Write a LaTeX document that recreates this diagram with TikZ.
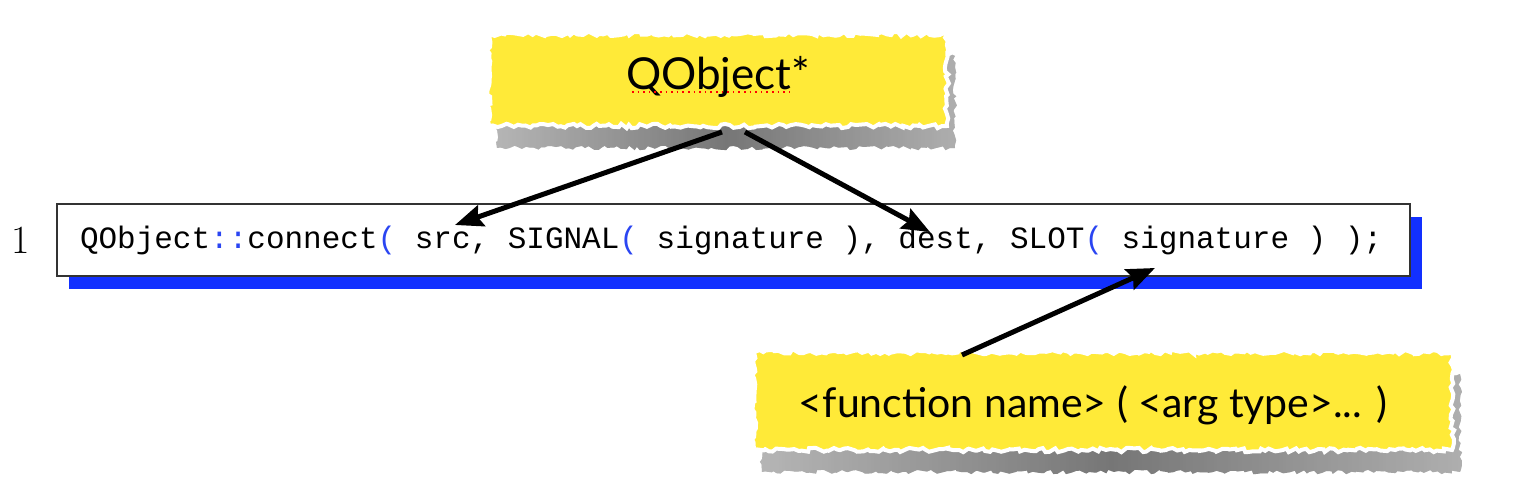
\documentclass[tikz,border=0pt]{standalone}
\usepackage{fontspec}
\setmonofont{Liberation Mono}
\newfontfamily\notefont{Lato}
\usetikzlibrary{arrows.meta,shadows,decorations.pathmorphing,positioning}

\definecolor{notefill}{HTML}{FFEA38}
\definecolor{codeblue}{HTML}{1230FF}
\definecolor{tokblue}{HTML}{2A45F2}
\newcommand{\tok}[1]{\textcolor{tokblue}{#1}}
\newcommand{\lowered}[2]{\raisebox{-#1}[0pt][0pt]{#2}}
\newcommand{\monospaces}{\spaceskip=9.3pt\relax}

\begin{document}
\pgfmathsetseed{7}
\begin{tikzpicture}[
  x=0.5pt, y=-0.5pt,
  every node/.style={inner sep=1pt},
  note/.style={draw=white, line width=2pt, fill=notefill,
    font=\notefont\fontsize{20.5}{22}\selectfont,
    decorate, decoration={random steps, segment length=2pt, amplitude=1.1pt},
    drop shadow={shadow xshift=4pt, shadow yshift=-11pt, opacity=.55,
      left color=black!30, right color=black!35, middle color=black!75}},
  codebox/.style={draw=black!80, line width=0.7pt, fill=white,
    minimum height=36pt, text width=653.5pt, inner xsep=11.5pt, align=left,
    font=\ttfamily\fontsize{15.5}{18}\selectfont,
    drop shadow={shadow xshift=6pt, shadow yshift=-6.5pt, fill=codeblue, opacity=1}},
  lineno/.style={font=\fontsize{20}{22}\selectfont},
  pointer/.style={draw, line width=2.5pt, -{Stealth[length=14pt, width=11pt, inset=2pt]}},
  spell/.style={draw=red, line width=0.8pt, dotted}]

  \useasboundingbox (0,0) rectangle (1528,496);

  % ---- objects ------------------------------------------------------------
  \node[note, minimum width=229pt, minimum height=46pt] (obj) at (718,80)
    {\fontsize{22}{24}\selectfont\lowered{5pt}{QObject*}};
  \node[codebox] (code) at (733.5,240)
    {\monospaces QObject\tok{::}connect\tok{(} src, SIGNAL\tok{(} signature ), dest, SLOT\tok{(} signature ) );};
  \node[lineno, left=12pt of code] (num) {1};
  \node[note, minimum width=349pt, minimum height=49pt] (fn) at (1103,401)
    {\lowered{8.5pt}{\hspace*{-10pt}<function name> ( <arg type>... )}};

  % spelling mark under the class name
  \draw[spell] ([shift={(-43pt,-6pt)}]obj.center) -- ++(80pt,0pt);

  % ---- arrows -------------------------------------------------------------
  \coordinate (srcpt)  at (455,225);
  \coordinate (destpt) at (930,232);
  \coordinate (sigpt)  at (1155,268);
  \draw[pointer] ([shift={(2pt,-2pt)}]obj.south)  -- (srcpt);
  \draw[pointer] ([shift={(13.5pt,-2pt)}]obj.south) -- (destpt);
  \draw[pointer] ([shift={(105pt,-2.5pt)}]fn.north west) -- (sigpt);
\end{tikzpicture}
\end{document}
